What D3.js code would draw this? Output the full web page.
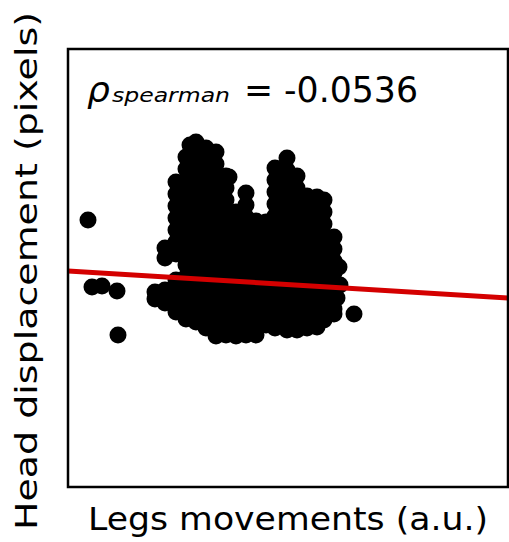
<!DOCTYPE html>
<html>
<head>
<meta charset="utf-8">
<script src="https://cdn.jsdelivr.net/npm/d3@7"></script>
<style>
  body { margin: 0; background: #fff; }
  svg text { font-family: "DejaVu Sans", Verdana, sans-serif; fill: #000; }
</style>
</head>
<body>
<svg id="chart" width="509" height="542"></svg>
<script>
// Axis ranges (no tick labels are drawn)
const legsRange = [0, 44];
const headRange = [0, 43.8];

// Dense cluster of frames, grouped by legs-movement value: [legs, [head displacements...]]
const cluster = [
  [8.7,  [19.5, 18.8]],
  [9.7,  [23.9, 22.9, 19.7, 18.4]],
  [10.8, [30.5, 29.3, 28.1, 26.9, 25.7, 24.5, 23.3, 20.7, 19.5, 18.3, 17.5]],
  [11.8, [33.0, 31.8, 30.6, 29.4, 28.2, 27.0, 25.8, 24.6, 23.4, 22.2, 21.0, 19.8, 18.6, 17.4, 16.8]],
  [12.2, [34.2]],
  [12.8, [34.5, 33.3, 32.1, 30.9, 29.7, 28.5, 27.3, 26.1, 24.9, 23.7, 22.5, 21.3, 20.1, 18.9, 17.7, 16.5]],
  [13.8, [33.9, 32.7, 31.5, 30.3, 29.1, 27.9, 26.7, 25.5, 24.3, 23.1, 21.9, 20.7, 19.5, 18.3, 17.1, 15.9]],
  [14.8, [33.5, 32.3, 31.1, 29.9, 28.7, 27.5, 26.3, 25.1, 23.9, 22.7, 21.5, 20.3, 19.1, 17.9, 16.7, 15.5, 15.1]],
  [15.8, [31.1, 29.9, 28.7, 27.5, 26.3, 25.1, 23.9, 22.7, 21.5, 20.3, 19.1, 17.9, 16.7, 15.5, 15.2]],
  [16.1, [31.0]],
  [16.8, [27.5, 26.3, 25.1, 23.9, 22.7, 21.5, 20.3, 19.1, 17.9, 16.7, 15.5, 15.1]],
  [17.8, [29.4, 28.2, 27.0, 25.8, 24.6, 23.4, 22.2, 21.0, 19.8, 18.6, 17.4, 16.2, 15.2]],
  [18.8, [26.6, 25.4, 24.2, 23.0, 21.8, 20.6, 19.4, 18.2, 17.0, 15.8, 15.2]],
  [19.8, [26.5, 25.3, 24.1, 22.9, 21.7, 20.5, 19.3, 18.1, 16.9, 16.2]],
  [20.7, [31.9, 30.7, 29.5, 28.3, 27.1, 25.9, 24.7, 23.5, 22.3, 21.1, 19.9, 18.7, 17.5, 16.3, 15.9]],
  [21.9, [32.9, 31.7, 30.5, 29.3, 28.1, 26.9, 25.7, 24.5, 23.3, 22.1, 20.9, 19.7, 18.5, 17.3, 16.1, 15.7]],
  [22.9, [31.1, 29.9, 28.7, 27.5, 26.3, 25.1, 23.9, 22.7, 21.5, 20.3, 19.1, 17.9, 16.7, 15.7]],
  [23.9, [29.1, 27.9, 26.7, 25.5, 24.3, 23.1, 21.9, 20.7, 19.5, 18.3, 17.1, 15.9]],
  [24.9, [29.0, 27.8, 26.6, 25.4, 24.2, 23.0, 21.8, 20.6, 19.4, 18.2, 17.0, 16.0]],
  [25.6, [28.7, 27.5, 26.3, 25.1, 23.9, 22.7, 21.5, 20.3, 19.1, 17.9, 16.7]],
  [26.6, [25.0, 23.8, 22.6, 21.4, 20.2, 19.0, 17.8, 17.3]],
  [26.9, [18.9]],
  [27.1, [22.0]],
  [27.2, [20.2]]
];

// Isolated frames: [legs, head]
const isolated = [
  [2.0, 26.7], [2.4, 20.0], [3.4, 20.1], [4.9, 19.6], [5.0, 15.2], [28.6, 17.3]
];

// Linear fit and rank correlation
const fitIntercept = 21.6;
const fitSlope = -0.0614;
const rhoValue = "-0.0536";

const xLabel = "Legs movements (a.u.)";
const yLabel = "Head displacement (pixels)";

const svg = d3.select("#chart");
const plot = { left: 68, top: 49, right: 508, bottom: 487 };

const x = d3.scaleLinear().domain(legsRange).range([plot.left, plot.right]);
const y = d3.scaleLinear().domain(headRange).range([plot.bottom, plot.top]);

const points = [];
cluster.forEach(([lx, hs]) => hs.forEach(h => points.push([lx, h])));
isolated.forEach(p => points.push(p));

svg.append("defs").append("clipPath").attr("id", "plotclip")
  .append("rect")
  .attr("x", plot.left).attr("y", plot.top)
  .attr("width", plot.right - plot.left).attr("height", plot.bottom - plot.top);

const g = svg.append("g").attr("clip-path", "url(#plotclip)");

g.selectAll("circle")
  .data(points)
  .join("circle")
  .attr("cx", d => x(d[0]))
  .attr("cy", d => y(d[1]))
  .attr("r", 8.5)
  .attr("fill", "#000");

const fitLine = d3.line()
  .x(d => x(d))
  .y(d => y(fitIntercept + fitSlope * d));

g.append("path")
  .datum(legsRange)
  .attr("d", fitLine)
  .attr("fill", "none")
  .attr("stroke", "#d40000")
  .attr("stroke-width", 5);

// Frame
svg.append("rect")
  .attr("x", plot.left).attr("y", plot.top)
  .attr("width", plot.right - plot.left).attr("height", plot.bottom - plot.top)
  .attr("fill", "none")
  .attr("stroke", "#000")
  .attr("stroke-width", 2.5);

// Correlation annotation
svg.append("text")
  .attr("x", 87).attr("y", 102)
  .attr("font-size", 36)
  .attr("font-style", "italic")
  .text("ρ");
svg.append("text")
  .attr("x", 112).attr("y", 102)
  .attr("font-size", 20)
  .attr("font-style", "italic")
  .attr("textLength", 118)
  .attr("lengthAdjust", "spacingAndGlyphs")
  .text("spearman");
svg.append("text")
  .attr("x", 244).attr("y", 102)
  .attr("font-size", 35)
  .attr("textLength", 174)
  .attr("lengthAdjust", "spacingAndGlyphs")
  .text("= " + rhoValue);

// Axis titles
svg.append("text")
  .attr("x", 88).attr("y", 530)
  .attr("font-size", 32)
  .attr("textLength", 400)
  .attr("lengthAdjust", "spacingAndGlyphs")
  .text(xLabel);

svg.append("text")
  .attr("transform", "translate(37,530) rotate(-90)")
  .attr("font-size", 31)
  .attr("textLength", 518)
  .attr("lengthAdjust", "spacingAndGlyphs")
  .text(yLabel);
</script>
</body>
</html>
